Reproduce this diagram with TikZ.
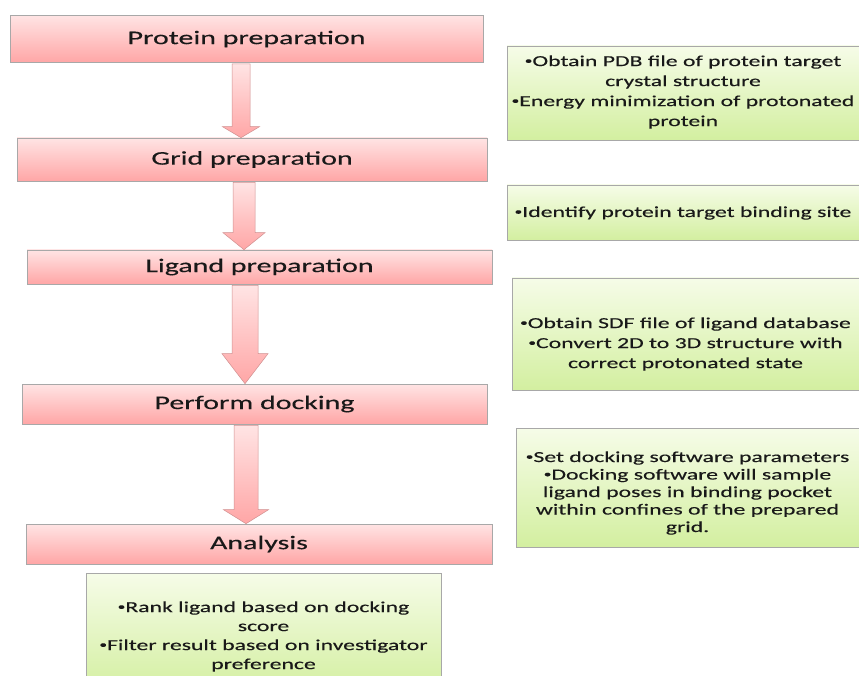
\documentclass[tikz,border=0pt]{standalone}
\usepackage{fontspec}
\setmainfont[FakeStretch=1.55,FakeBold=0.3]{Carlito}
\usetikzlibrary{calc}
\definecolor{pinktop}{HTML}{FFE4E4}
\definecolor{pinkbot}{HTML}{FFA6A6}
\definecolor{greentop}{HTML}{F6FCE8}
\definecolor{greenbot}{HTML}{D3EFA0}
\definecolor{edge}{HTML}{A8A8A8}
\definecolor{arrowedge}{HTML}{D09090}
\newcommand\bu{{\fontsize{10}{10}\selectfont\raisebox{0.45ex}{•}}}
\newcommand\blockarrow[6]{%
  \path let \p1=(#1.south), \p2=(#2.north) in [arrowfill]
    ({(#3-#4)*1pt},{\y1-1pt}) -- ({(#3-#4)*1pt},{\y2+#6pt}) -- ({(#3-#5)*1pt},{\y2+#6pt})
    -- ({#3pt},{\y2}) -- ({(#3+#5)*1pt},{\y2+#6pt}) -- ({(#3+#4)*1pt},{\y2+#6pt})
    -- ({(#3+#4)*1pt},{\y1-1pt}) -- cycle;}
\begin{document}
\begin{tikzpicture}[x=1pt,y=1pt,
  stepbox/.style={draw=edge, line width=0.6pt, top color=pinktop, bottom color=pinkbot,
    inner sep=0pt, font=\fontsize{19.3}{22}\selectfont, text=black!90},
  notebox/.style={draw=edge, line width=0.6pt, top color=greentop, bottom color=greenbot, inner sep=0pt},
  notetext/.style={align=center, font=\fontsize{15.3}{20}\selectfont, inner sep=0pt, text=black!90},
  arrowfill/.style={draw=arrowedge, line width=0.5pt, top color=pinktop, bottom color=pinkbot}]
\useasboundingbox (0,0) rectangle (859,-676);
\fill[white] (0,0) rectangle (859,-676);

% step boxes
\node[stepbox, minimum width=473pt, minimum height=47pt] (prot) at (246.5,-39) {Protein preparation};
\node[stepbox, minimum width=470pt, minimum height=43pt] (grid) at (252,-159.5) {Grid preparation};
\node[stepbox, minimum width=465pt, minimum height=34pt] (lig)  at (259.5,-267) {Ligand preparation};
\node[stepbox, minimum width=465pt, minimum height=40pt] (dock) at (254.5,-404) {Perform docking};
\node[stepbox, minimum width=466pt, minimum height=40pt] (ana)  at (259,-544) {Analysis};

% arrows
\blockarrow{prot}{grid}{241}{9}{18.5}{11}
\blockarrow{grid}{lig}{244}{11}{21}{17}
\blockarrow{lig}{dock}{245}{13}{23}{30}
\blockarrow{dock}{ana}{246}{12}{22.5}{14}

% note boxes
\node[notebox, minimum width=352pt, minimum height=94pt] (n1) at (683,-93) {};
\node[notetext] (t1) at (683,-92) {\bu Obtain PDB file of protein target\\ crystal structure\\ \bu Energy minimization of protonated\\ protein};

\node[notebox, minimum width=352pt, minimum height=55pt] (n2) at (683,-212.5) {};
\node[notetext] (t2) at (683,-213) {\bu Identify protein target binding site};

\node[notebox, minimum width=347pt, minimum height=112pt] (n3) at (685.5,-334) {};
\node[notetext] (t3) at (685.5,-344) {\bu Obtain SDF file of ligand database\\ \bu Convert 2D to 3D structure with\\ correct protonated state};

\node[notebox, minimum width=343pt, minimum height=119pt] (n4) at (687.5,-487.5) {};
\node[notetext, font=\fontsize{15.3}{17.5}\selectfont] (t4) at (687.5,-493) {\bu Set docking software parameters\\ \bu Docking software will sample\\ ligand poses in binding pocket\\ within confines of the prepared\\ grid.};

\node[notebox, minimum width=355pt, minimum height=120pt] (n5) at (263.5,-633) {};
\node[notetext, font=\fontsize{15.3}{19}\selectfont] (t5) at (263.5,-636.5) {\bu Rank ligand based on docking\\ score\\ \bu Filter result based on investigator\\ preference};
\end{tikzpicture}
\end{document}
